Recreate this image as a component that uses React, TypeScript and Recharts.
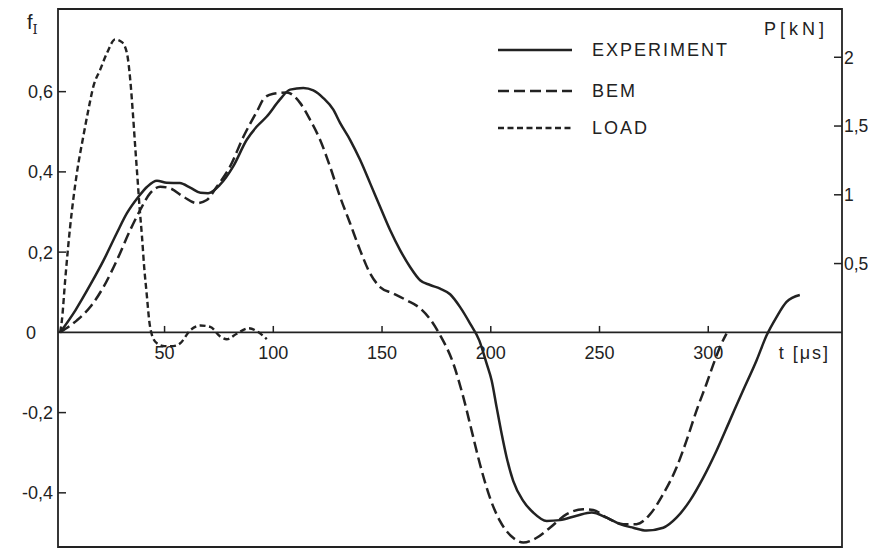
import React from 'react';
import { LineChart, Line, XAxis, YAxis, ReferenceLine, ReferenceArea, Legend } from 'recharts';

// ---- data ----
const expT = [2, 9, 16, 22, 28, 32.7, 38, 42, 46.5, 51, 57, 62, 66.5, 70, 75.5, 81.5, 87.8, 92.4, 97, 103, 107.7, 113.8, 118.4, 123, 127.6, 130.7, 135.3, 139.9, 144.5, 149.1, 153.7, 158.3, 162.9, 167.5, 172.1, 176.7, 181.3, 185.9, 190.5, 194.7, 198.1, 200.4, 202.7, 205, 207.3, 210.3, 214.9, 219.5, 225.7, 231.8, 239.5, 246.4, 253.3, 259.4, 265.5, 271.6, 279.3, 285.4, 291.5, 297.7, 303.8, 309.9, 316, 322.2, 326.8, 331.4, 336, 342.1];
const expF = [0, 0.055, 0.12, 0.18, 0.247, 0.297, 0.338, 0.363, 0.378, 0.373, 0.372, 0.36, 0.348, 0.347, 0.368, 0.413, 0.48, 0.513, 0.538, 0.58, 0.605, 0.609, 0.603, 0.584, 0.555, 0.522, 0.48, 0.43, 0.372, 0.313, 0.255, 0.205, 0.163, 0.13, 0.118, 0.109, 0.095, 0.063, 0.022, -0.02, -0.078, -0.12, -0.187, -0.253, -0.312, -0.37, -0.42, -0.449, -0.47, -0.468, -0.457, -0.449, -0.462, -0.478, -0.487, -0.494, -0.487, -0.462, -0.42, -0.362, -0.295, -0.22, -0.145, -0.07, -0.008, 0.038, 0.076, 0.093];

const bemT = [2, 9.7, 15.8, 21.9, 28.1, 34.2, 38.8, 43.4, 48, 52.6, 58.7, 64.8, 69.4, 74, 80.1, 86.3, 92.4, 96, 100, 106.2, 112.3, 116.9, 121.5, 126.1, 130.7, 135.3, 139.9, 144.5, 149.1, 155.2, 161.3, 167.5, 172.5, 176.5, 182.8, 187.4, 191.2, 195, 199.6, 204.2, 210.3, 214.9, 221.1, 227.2, 234.9, 242.5, 247.1, 253.3, 260.9, 267, 273, 279.3, 285.4, 290, 294.6, 299.2, 303, 306.1, 308.4];
const bemF = [0, 0.03, 0.063, 0.113, 0.18, 0.255, 0.305, 0.347, 0.363, 0.359, 0.338, 0.322, 0.33, 0.363, 0.413, 0.488, 0.55, 0.585, 0.595, 0.598, 0.572, 0.53, 0.48, 0.413, 0.338, 0.272, 0.205, 0.147, 0.113, 0.097, 0.08, 0.06, 0.03, -0.005, -0.078, -0.162, -0.245, -0.328, -0.412, -0.47, -0.512, -0.524, -0.512, -0.487, -0.453, -0.441, -0.443, -0.462, -0.478, -0.478, -0.455, -0.403, -0.337, -0.27, -0.195, -0.128, -0.07, -0.028, -0.003];

const loadT = [2, 2.8, 4.3, 6.6, 9.7, 12.7, 15, 17.3, 20.4, 23.5, 27.3, 30.4, 32.7, 34.2, 35.4, 36.5, 37.6, 38.5, 39.6, 40.6, 41.9, 42.9, 44.2, 46.5, 50, 54, 57.2, 61.8, 66.4, 71, 75.6, 78.6, 83.2, 88.6, 93.2, 97];
const loadP = [0, 0.088, 0.38, 0.77, 1.16, 1.43, 1.62, 1.79, 1.91, 2.03, 2.13, 2.11, 2.03, 1.84, 1.6, 1.35, 1.11, 0.91, 0.7, 0.48, 0.26, 0.09, -0.02, -0.08, -0.1, -0.1, -0.08, 0.015, 0.05, 0.04, -0.03, -0.05, -0.01, 0.03, 0, -0.05];

const seriesNames = ['EXPERIMENT', 'BEM', 'LOAD'];
const xTicks = [50, 100, 150, 200, 250, 300];
const fTicks = [-0.4, -0.2, 0, 0.2, 0.4, 0.6];
const pTicks = [0.5, 1, 1.5, 2];
const xDomain = [1, 361.5];
const fDomain = [-0.535, 0.806];
const pDomain = [-1.561, 2.351];

const expData = expT.map((t, i) => ({ t, f: expF[i] }));
const bemData = bemT.map((t, i) => ({ t, f: bemF[i] }));
const loadData = loadT.map((t, i) => ({ t, p: loadP[i] }));

// ---- styles ----
const INK = '#222';
const FONT = '"Liberation Sans", Arial, sans-serif';
const FS = 18;
const DASHES = ['0', '11 5', '6 3.5'];

const fmt = (v: number) => String(v).replace('.', ',');

const LeftTick = (props: any) => {
  const { x, y, payload } = props;
  const v = payload.value;
  const zero = v === 0;
  return (
    <g>
      {!zero && <line x1={x} x2={x + 8} y1={y} y2={y} stroke={INK} strokeWidth={1.5} />}
      <text
        x={zero ? x - 32 : x - 5}
        y={y}
        dy="0.36em"
        textAnchor={zero ? 'start' : 'end'}
        fill={INK}
        fontSize={FS}
        fontFamily={FONT}
      >
        {fmt(v)}
      </text>
    </g>
  );
};

const RightTick = (props: any) => {
  const { x, y, payload } = props;
  return (
    <g>
      <line x1={x - 8} x2={x} y1={y} y2={y} stroke={INK} strokeWidth={1.5} />
      <text x={x + 2} y={y} dy="0.36em" textAnchor="start" fill={INK} fontSize={17.5} fontFamily={FONT}>
        {fmt(payload.value)}
      </text>
    </g>
  );
};

const LegendContent = () => {
  const rows = [42, 83, 120];
  return (
    <svg width={260} height={140} style={{ display: 'block' }}>
      {seriesNames.map((n, i) => (
        <g key={n}>
          <line
            x1={2}
            x2={76}
            y1={rows[i]}
            y2={rows[i]}
            stroke={INK}
            strokeWidth={2.6}
            strokeDasharray={DASHES[i]}
          />
          <text x={96} y={rows[i]} dy="0.36em" fill={INK} fontSize={FS} fontFamily={FONT} letterSpacing={2}>
            {n}
          </text>
        </g>
      ))}
    </svg>
  );
};

export default function App() {
  return (
    <LineChart width={860} height={542} margin={{ top: 1, right: 0, bottom: 3, left: 0 }}>
      <XAxis
        xAxisId="b"
        type="number"
        dataKey="t"
        domain={xDomain}
        allowDataOverflow
        height={0}
        tick={false}
        tickLine={false}
        axisLine={false}
      />
      <YAxis
        yAxisId="f"
        type="number"
        domain={fDomain}
        allowDataOverflow
        ticks={fTicks}
        width={50}
        tickSize={0}
        tickMargin={0}
        tickLine={false}
        tick={<LeftTick />}
        interval={0}
        axisLine={false}
        label={{
          content: (p: any) => {
            const vb = p.viewBox || { x: 0, y: 0 };
            return (
              <text x={vb.x + 19} y={vb.y + 20} fill={INK} fontSize={20} fontFamily={FONT}>
                f
                <tspan dy={5} fontSize={13} fontFamily='"DejaVu Serif", serif'>
                  I
                </tspan>
              </text>
            );
          },
        }}
      />
      <YAxis
        yAxisId="p"
        orientation="right"
        type="number"
        domain={pDomain}
        allowDataOverflow
        ticks={pTicks}
        width={26}
        tickSize={0}
        tickMargin={0}
        tickLine={false}
        tick={<RightTick />}
        interval={0}
        axisLine={false}
        label={{
          content: (p: any) => {
            const vb = p.viewBox || { x: 0, y: 0 };
            return (
              <text x={vb.x - 14} y={vb.y + 26} textAnchor="end" fill={INK} fontSize={FS} fontFamily={FONT} letterSpacing={4}>
                P[kN]
              </text>
            );
          },
        }}
      />
      <ReferenceArea
        xAxisId="b"
        yAxisId="f"
        x1={xDomain[0]}
        x2={xDomain[1]}
        y1={fDomain[0]}
        y2={fDomain[1]}
        fill="none"
        fillOpacity={0}
        stroke={INK}
        strokeWidth={1.8}
        ifOverflow="visible"
      />
      <ReferenceLine
        xAxisId="b"
        yAxisId="f"
        y={0}
        stroke={INK}
        strokeWidth={1.6}
        label={{
          content: (p: any) => {
            const vb = p.viewBox || { x: 0, y: 0, width: 0 };
            return (
              <text x={vb.x + vb.width - 12} y={vb.y + 27} textAnchor="end" fill={INK} fontSize={FS} fontFamily={FONT} letterSpacing={2}>
                t [μs]
              </text>
            );
          },
        }}
      />
      {xTicks.map((v) => (
        <ReferenceLine
          key={v}
          xAxisId="b"
          yAxisId="f"
          segment={[
            { x: v, y: 0 },
            { x: v, y: 0.016 },
          ]}
          stroke={INK}
          strokeWidth={1.5}
          label={{ value: String(v), position: 'bottom', offset: 14, fill: INK, fontSize: FS, fontFamily: FONT }}
        />
      ))}
      <Line
        xAxisId="b"
        yAxisId="f"
        data={expData}
        dataKey="f"
        name={seriesNames[0]}
        type="monotone"
        stroke={INK}
        strokeWidth={2.5}
        dot={false}
        activeDot={false}
        isAnimationActive={false}
      />
      <Line
        xAxisId="b"
        yAxisId="f"
        data={bemData}
        dataKey="f"
        name={seriesNames[1]}
        type="monotone"
        stroke={INK}
        strokeWidth={2.5}
        strokeDasharray={DASHES[1]}
        dot={false}
        activeDot={false}
        isAnimationActive={false}
      />
      <Line
        xAxisId="b"
        yAxisId="p"
        data={loadData}
        dataKey="p"
        name={seriesNames[2]}
        type="monotone"
        stroke={INK}
        strokeWidth={2.4}
        strokeDasharray={DASHES[2]}
        dot={false}
        activeDot={false}
        isAnimationActive={false}
      />
      <Legend
        layout="vertical"
        verticalAlign="middle"
        align="center"
        content={<LegendContent />}
        wrapperStyle={{ top: 0, left: 488, width: 260, height: 140 }}
      />
    </LineChart>
  );
}
